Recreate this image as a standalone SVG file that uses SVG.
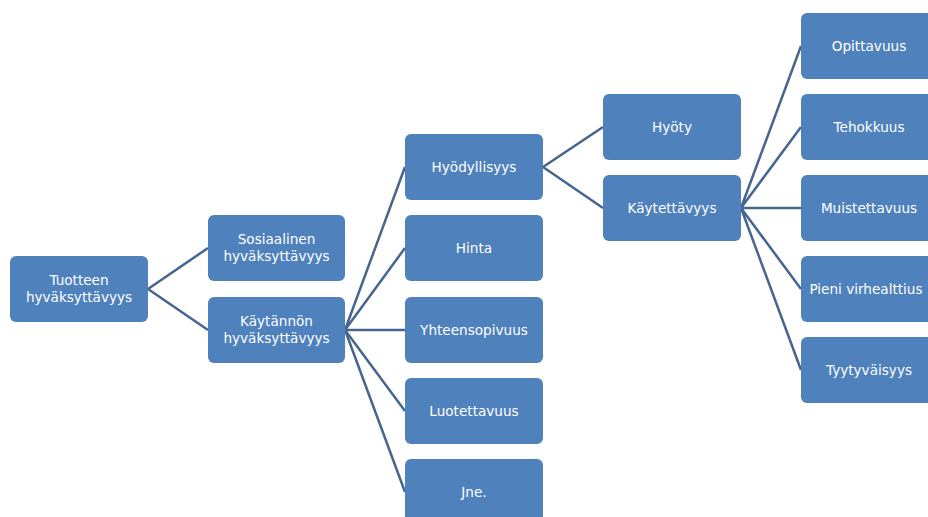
<svg xmlns="http://www.w3.org/2000/svg" width="928" height="517" viewBox="0 0 928 517">
<style>
.box{fill:#4f81bd;}
.t{fill:#ffffff;font-family:"DejaVu Sans","Liberation Sans",sans-serif;font-size:13.6px;text-anchor:middle;dominant-baseline:central;}
.c{stroke:#46668f;stroke-width:2.5;fill:none;}
</style>
<rect width="928" height="517" fill="#ffffff"/>
<g id="connectors">
<path class="c" d="M148,289 L208,248 M148,289 L208,330"/>
<path class="c" d="M345,330 L405,167 M345,330 L405,248 M345,330 L405,330 M345,330 L405,411 M345,330 L405,492"/>
<path class="c" d="M543,167 L603,127 M543,167 L603,208"/>
<path class="c" d="M741,208 L801,46 M741,208 L801,127 M741,208 L801,208 M741,208 L801,289 M741,208 L801,370"/>
</g>
<g id="n-tuotteen"><rect class="box" x="10" y="256" width="138" height="66" rx="6"/><text class="t" x="79" y="280">Tuotteen</text><text class="t" x="79" y="297">hyväksyttävyys</text></g>
<g id="n-sosiaalinen"><rect class="box" x="208" y="215" width="137" height="66" rx="6"/><text class="t" x="276.5" y="239">Sosiaalinen</text><text class="t" x="276.5" y="256">hyväksyttävyys</text></g>
<g id="n-kaytannon"><rect class="box" x="208" y="297" width="137" height="66" rx="6"/><text class="t" x="276.5" y="321">Käytännön</text><text class="t" x="276.5" y="338">hyväksyttävyys</text></g>
<g id="n-hyodyllisyys"><rect class="box" x="405" y="134" width="138" height="66" rx="6"/><text class="t" x="474" y="167">Hyödyllisyys</text></g>
<g id="n-hinta"><rect class="box" x="405" y="215" width="138" height="66" rx="6"/><text class="t" x="474" y="248">Hinta</text></g>
<g id="n-yhteensopivuus"><rect class="box" x="405" y="297" width="138" height="66" rx="6"/><text class="t" x="474" y="330">Yhteensopivuus</text></g>
<g id="n-luotettavuus"><rect class="box" x="405" y="378" width="138" height="66" rx="6"/><text class="t" x="474" y="411">Luotettavuus</text></g>
<g id="n-jne"><rect class="box" x="405" y="459" width="138" height="66" rx="6"/><text class="t" x="474" y="492">Jne.</text></g>
<g id="n-hyoty"><rect class="box" x="603" y="94" width="138" height="66" rx="6"/><text class="t" x="672" y="127">Hyöty</text></g>
<g id="n-kaytettavyys"><rect class="box" x="603" y="175" width="138" height="66" rx="6"/><text class="t" x="672" y="208">Käytettävyys</text></g>
<g id="n-opittavuus"><rect class="box" x="801" y="13" width="138" height="66" rx="6"/><text class="t" x="869" y="46">Opittavuus</text></g>
<g id="n-tehokkuus"><rect class="box" x="801" y="94" width="138" height="66" rx="6"/><text class="t" x="869" y="127">Tehokkuus</text></g>
<g id="n-muistettavuus"><rect class="box" x="801" y="175" width="138" height="66" rx="6"/><text class="t" x="869" y="208">Muistettavuus</text></g>
<g id="n-pieni"><rect class="box" x="801" y="256" width="138" height="66" rx="6"/><text class="t" x="866" y="289">Pieni virhealttius</text></g>
<g id="n-tyytyvaisyys"><rect class="box" x="801" y="337" width="138" height="66" rx="6"/><text class="t" x="869" y="370">Tyytyväisyys</text></g>
</svg>
